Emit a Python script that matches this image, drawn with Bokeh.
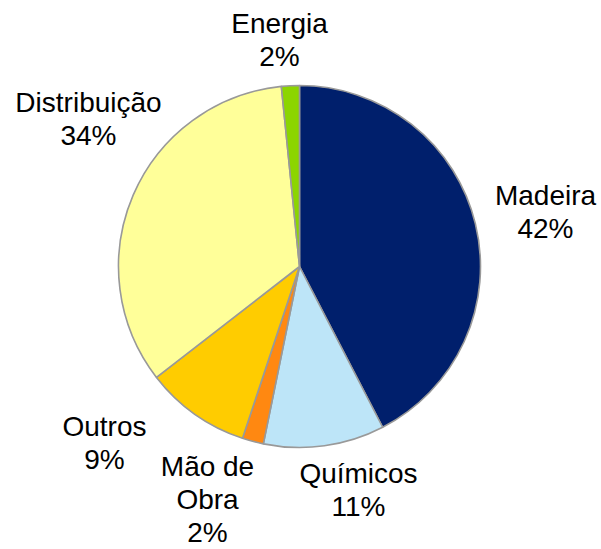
import math
from bokeh.plotting import figure
from bokeh.models import Range1d, ColumnDataSource
from bokeh.core.properties import value
from bokeh.embed import file_html
from bokeh.resources import INLINE

# ---- data ----
categories = ["Madeira", "Químicos", "Mão de Obra", "Outros", "Distribuição", "Energia"]
shares = [42.4, 10.8, 1.9, 9.4, 33.9, 1.6]
pct_labels = ["42%", "11%", "2%", "9%", "34%", "2%"]
colors = ["#001F6C", "#BDE5F8", "#FF8811", "#FFCC00", "#FFFF99", "#8CD500"]
label_lines = [["Madeira"], ["Químicos"], ["Mão de", "Obra"], ["Outros"], ["Distribuição"], ["Energia"]]

# ---- layout (picture pixel coords: label x-centre, first baseline) ----
W, H = 601, 549
label_anchor = [(545, 205), (358, 483), (207, 476), (104, 436), (88, 112), (279, 33)]
line_gap = 33
baseline_fix = -10.5
cx, cy, R = 299, 266, 181

def py(y):  # picture y -> data y
    return H - y

total = sum(shares)
starts, ends = [], []
cum = 0.0
for s in shares:
    a0 = math.pi / 2 - 2 * math.pi * cum / total
    cum += s
    a1 = math.pi / 2 - 2 * math.pi * cum / total
    starts.append(a0)
    ends.append(a1)

src = ColumnDataSource(dict(cat=categories, start=starts, end=ends, color=colors))

p = figure(width=W, height=H, output_backend="svg", toolbar_location=None,
           x_range=Range1d(0, W), y_range=Range1d(0, H),
           min_border=0)
p.axis.visible = False
p.grid.visible = False
p.outline_line_color = None
p.background_fill_color = "white"
p.border_fill_color = "white"

p.wedge(x=cx, y=py(cy), radius=R, start_angle="start", end_angle="end",
        direction="clock", fill_color="color", line_color="#999999",
        line_width=1.6, source=src)

tx, ty, tt = [], [], []
for lines, pct, (ax, ay) in zip(label_lines, pct_labels, label_anchor):
    for i, t in enumerate(lines + [pct]):
        tx.append(ax)
        ty.append(py(ay + i * line_gap + baseline_fix))
        tt.append(t)

p.text(x=tx, y=ty, text=tt, text_align="center", text_baseline="alphabetic",
       text_font=value("Liberation Sans"), text_font_size="28px", text_color="black")

open("out.html", "w").write(file_html(p, INLINE))
